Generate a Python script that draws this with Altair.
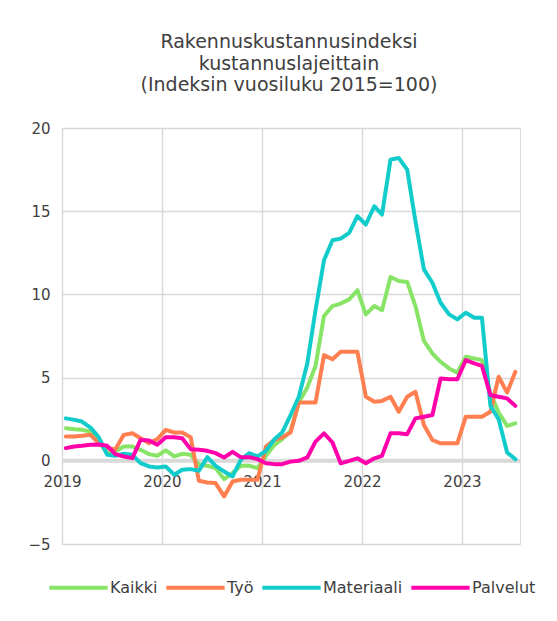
import altair as alt
import pandas as pd

series_names = ["Kaikki", "Työ", "Materiaali", "Palvelut"]
series_colors = ["#88e466", "#ff7f50", "#12cccc", "#ff00aa"]

# monthly observations, Jan 2019 .. Jul 2023 (55 months)
kaikki = [1.96, 1.9, 1.86, 1.76, 1.16, 0.46, 0.56, 0.86, 0.86, 0.66, 0.4, 0.3,
          0.62, 0.26, 0.42, 0.36, -0.24, -0.3, -0.44, -1.1, -0.74, -0.3, -0.3, -0.44,
          0.3, 0.96, 1.3, 1.8, 3.5, 4.4, 5.7, 8.7, 9.3, 9.45, 9.7, 10.25,
          8.8, 9.3, 9.05, 11.05, 10.8, 10.75, 9.3, 7.2, 6.45, 5.95, 5.55, 5.3,
          6.25, 6.15, 6.05, 4.05, 2.9, 2.1, 2.25]
tyo = [1.46, 1.46, 1.5, 1.56, 1.06, 0.76, 0.7, 1.56, 1.66, 1.36, 1.06, 1.3,
       1.86, 1.7, 1.7, 1.42, -1.2, -1.3, -1.34, -2.14, -1.24, -1.14, -1.14, -1.14,
       0.86, 1.26, 1.4, 1.7, 3.5, 3.5, 3.5, 6.35, 6.1, 6.55, 6.55, 6.55,
       3.85, 3.55, 3.6, 3.85, 2.95, 3.85, 4.15, 2.15, 1.25, 1.05, 1.05, 1.05,
       2.65, 2.65, 2.65, 2.95, 5.05, 4.1, 5.35]
materiaali = [2.55, 2.46, 2.36, 2.0, 1.42, 0.36, 0.3, 0.42, 0.36, -0.14, -0.34, -0.4,
              -0.34, -0.84, -0.54, -0.5, -0.6, 0.22, -0.3, -0.64, -0.94, 0.06, 0.46, 0.26,
              0.6, 1.3, 1.7, 2.75, 3.85, 5.85, 9.05, 12.05, 13.25, 13.35, 13.7, 14.7,
              14.2, 15.3, 14.8, 18.1, 18.2, 17.5, 14.4, 11.5, 10.7, 9.5, 8.8, 8.5,
              8.9, 8.6, 8.6, 3.3, 2.5, 0.5, 0.1]
palvelut = [0.76, 0.86, 0.9, 0.96, 0.98, 0.9, 0.4, 0.26, 0.16, 1.26, 1.22, 0.96,
            1.42, 1.42, 1.36, 0.7, 0.66, 0.6, 0.46, 0.2, 0.54, 0.22, 0.22, 0.1,
            -0.15, -0.2, -0.2, -0.05, 0.0, 0.2, 1.15, 1.65, 1.1, -0.15, 0.0, 0.15,
            -0.15, 0.15, 0.3, 1.65, 1.65, 1.6, 2.55, 2.65, 2.75, 4.95, 4.9, 4.9,
            6.05, 5.85, 5.7, 3.95, 3.85, 3.75, 3.3]

months = [f"{2019 + i // 12}-{i % 12 + 1:02d}-15T00:00:00" for i in range(55)]
year_ticks = [2019, 2020, 2021, 2022, 2023]

rows = []
for name, vals in zip(series_names, [kaikki, tyo, materiaali, palvelut]):
    for order, (m, v) in enumerate(zip(months, vals)):
        rows.append({"kuukausi": m, "arvo": v, "sarja": name, "jarj": order})
df = pd.DataFrame(rows)

FONT = "DejaVu Sans"
TXT = "#404040"
GRID = "#d9d9d9"

x_enc = alt.X(
    "kuukausi:T",
    scale=alt.Scale(domain=[alt.DateTime(year=2019, month=1, date=1),
                            alt.DateTime(year=2023, month=8, date=1)]),
    axis=alt.Axis(values=[alt.DateTime(year=y, month=1, date=1) for y in year_ticks],
                  format="%Y", title=None, grid=True, gridColor=GRID, gridWidth=1.5,
                  ticks=False, tickSize=0, domain=False, labelPadding=14,
                  labelFlush=False, offset=-83.2, labelFontSize=15,
                  labelColor=TXT, labelFont=FONT),
)
y_enc = alt.Y(
    "arvo:Q",
    scale=alt.Scale(domain=[-5, 20], nice=False),
    axis=alt.Axis(values=[-5, 0, 5, 10, 15, 20], title=None, grid=True,
                  gridColor=GRID, gridWidth=1.5, ticks=False, tickSize=0,
                  domain=False, labelPadding=12, labelFontSize=15,
                  labelColor=TXT, labelFont=FONT),
)

zero = alt.Chart(pd.DataFrame({"arvo": [0]})).mark_rule(
    color=GRID, strokeWidth=4
).encode(y=alt.Y("arvo:Q", scale=alt.Scale(domain=[-5, 20], nice=False)))

lines = alt.Chart(df).mark_line(strokeWidth=4, strokeCap="round", strokeJoin="round").encode(
    x=x_enc,
    y=y_enc,
    order="jarj:Q",
    color=alt.Color(
        "sarja:N",
        scale=alt.Scale(domain=series_names, range=series_colors),
        sort=series_names,
        legend=alt.Legend(title=None, orient="none", legendX=-15, legendY=428,
                          direction="horizontal",
                          symbolType="stroke", symbolStrokeWidth=4, symbolSize=3400,
                          labelFontSize=16, labelColor=TXT, labelFont=FONT,
                          labelOffset=0, columnPadding=0),
    ),
)

chart = alt.layer(zero, lines).properties(
    width=458,
    height=416,
    autosize=alt.AutoSizeParams(type="none"),
    padding={"left": 54, "top": 120, "right": 24, "bottom": 69},
    title=alt.TitleParams(
        text=["Rakennuskustannusindeksi", "kustannuslajeittain",
              "(Indeksin vuosiluku 2015=100)"],
        fontSize=19, fontWeight="normal", font=FONT, color=TXT,
        lineHeight=21.5, anchor="middle", frame="group", offset=26, dx=-2,
    ),
).configure_view(stroke=None).configure(background="white")

chart.save("out.html", embed_options={"renderer": "svg", "actions": False})
